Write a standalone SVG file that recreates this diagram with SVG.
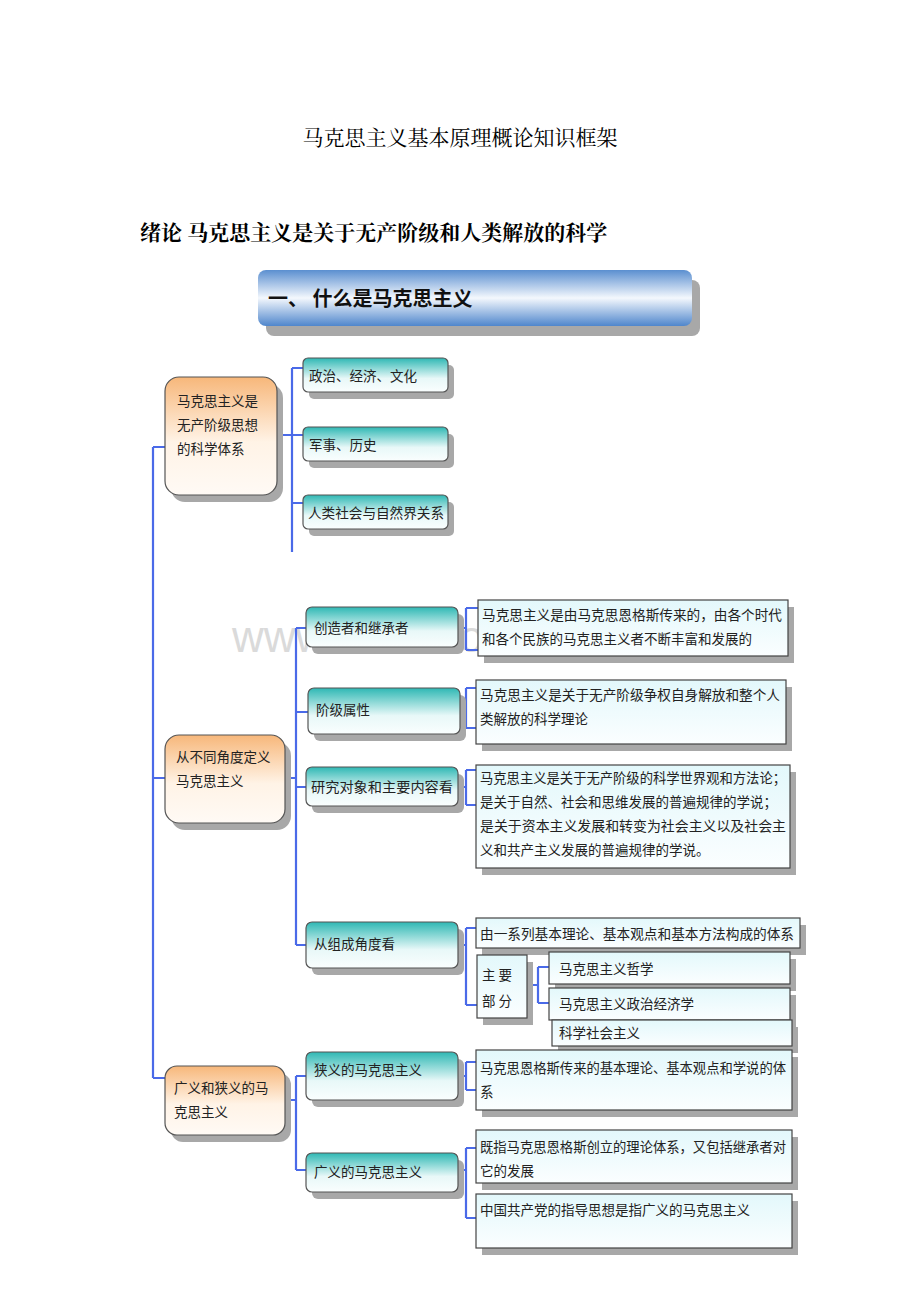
<svg xmlns="http://www.w3.org/2000/svg" width="920" height="1302" viewBox="0 0 920 1302">
<defs>
<linearGradient id="gBlue" x1="0" y1="0" x2="0" y2="1"><stop offset="0" stop-color="#5b8fd0"/><stop offset="0.5" stop-color="#f4f8fd"/><stop offset="1" stop-color="#4f86cc"/></linearGradient>
<linearGradient id="gOr" x1="0" y1="0" x2="0" y2="1"><stop offset="0" stop-color="#f7b77a"/><stop offset="0.55" stop-color="#fff3e6"/><stop offset="1" stop-color="#fffaf5"/></linearGradient>
<linearGradient id="gTeal" x1="0" y1="0" x2="0" y2="1"><stop offset="0" stop-color="#2fb8b4"/><stop offset="0.6" stop-color="#e8f8f8"/><stop offset="1" stop-color="#fafefe"/></linearGradient>
<linearGradient id="gCy" x1="0" y1="0" x2="0" y2="1"><stop offset="0" stop-color="#e3f8fb"/><stop offset="1" stop-color="#fbfeff"/></linearGradient>
</defs>
<style>
text{font-family:"Noto Sans CJK SC","Noto Sans CJK TC",sans-serif;fill:#222}
.h{font-family:"Noto Serif CJK SC","Noto Sans CJK SC",serif;font-size:21px;fill:#000}
.t{font-size:13.5px}
.sh{fill:#a8a8a8}
.or{fill:url(#gOr);stroke:#555;stroke-width:1.2}
.tl{fill:url(#gTeal);stroke:#555;stroke-width:1.2}
.cy{fill:url(#gCy);stroke:#444;stroke-width:1.2}
.ln{stroke:#4a6ae8;stroke-width:2.2;fill:none}
</style>
<rect width="920" height="1302" fill="#fff"/>
<text class="h" x="460" y="145" text-anchor="middle" font-size="22">马克思主义基本原理概论知识框架</text>
<text class="h" x="140" y="240" font-weight="bold">绪论  马克思主义是关于无产阶级和人类解放的科学</text>
<text x="232" y="652" font-size="44" style="fill:#dadada;font-family:'Liberation Sans',sans-serif">www.zixin.com.cn</text>

<g id="banner">
<rect class="sh" x="266" y="280" width="434" height="56" rx="8"/>
<rect x="258" y="270" width="434" height="56" rx="8" fill="url(#gBlue)"/>
<text x="268" y="306" font-size="20" font-weight="bold" style="fill:#111">一、 什么是马克思主义</text>
</g>

<g id="connectors">
<path class="ln" d="M153 447V1078M153 447H165M153 778H165M153 1078H165"/>
<path class="ln" d="M277 435H292M292 368V552M292 368H303M292 435H303M292 503H303"/>
<path class="ln" d="M285 778H296M296 628V945M296 628H306M296 712H308M296 787H306M296 945H306"/>
<path class="ln" d="M458 628H466M466 608V650M466 608H478M466 650H478"/>
<path class="ln" d="M460 712H466M466 688V728M466 688H476M466 728H476"/>
<path class="ln" d="M458 787H466M466 770V805M466 770H476M466 805H476"/>
<path class="ln" d="M458 945H466M466 928V1005M466 928H476M466 1005H477"/>
<path class="ln" d="M527 985H538M538 967V1003M538 967H549M538 1003H549"/>
<path class="ln" d="M285 1100H296M296 1076V1170M296 1076H306M296 1170H306"/>
<path class="ln" d="M458 1076H466M466 1062V1090M466 1062H476M466 1090H476"/>
<path class="ln" d="M458 1170H466M466 1148V1218M466 1148H476M466 1218H476"/>
</g>

<g id="n1"><rect class="sh" x="171" y="384" width="112" height="118" rx="14"/><rect class="or" x="165" y="377" width="112" height="118" rx="14"/>
<text class="t" x="177" y="406">马克思主义是</text><text class="t" x="177" y="430">无产阶级思想</text><text class="t" x="177" y="454">的科学体系</text></g>
<g id="n1a"><rect class="sh" x="309" y="365" width="145" height="34" rx="5"/><rect class="tl" x="303" y="358" width="145" height="34" rx="5"/><text class="t" x="309" y="381">政治、经济、文化</text></g>
<g id="n1b"><rect class="sh" x="309" y="434" width="145" height="34" rx="5"/><rect class="tl" x="303" y="427" width="145" height="34" rx="5"/><text class="t" x="309" y="450">军事、历史</text></g>
<g id="n1c"><rect class="sh" x="309" y="502" width="145" height="34" rx="5"/><rect class="tl" x="303" y="495" width="145" height="34" rx="5"/><text class="t" x="308" y="518" textLength="136" lengthAdjust="spacingAndGlyphs">人类社会与自然界关系</text></g>

<g id="n2"><rect class="sh" x="171" y="742" width="120" height="88" rx="14"/><rect class="or" x="165" y="735" width="120" height="88" rx="14"/>
<text class="t" x="176" y="762">从不同角度定义</text><text class="t" x="176" y="786">马克思主义</text></g>
<g id="n2a"><rect class="sh" x="312" y="614" width="152" height="40" rx="6"/><rect class="tl" x="306" y="607" width="152" height="40" rx="6"/><text class="t" x="314" y="633">创造者和继承者</text></g>
<g id="n2b"><rect class="sh" x="314" y="695" width="152" height="46" rx="6"/><rect class="tl" x="308" y="688" width="152" height="46" rx="6"/><text class="t" x="316" y="715">阶级属性</text></g>
<g id="n2c"><rect class="sh" x="312" y="774" width="152" height="39" rx="6"/><rect class="tl" x="306" y="767" width="152" height="39" rx="6"/><text class="t" x="311" y="792" textLength="142" lengthAdjust="spacingAndGlyphs">研究对象和主要内容看</text></g>
<g id="n2d"><rect class="sh" x="312" y="929" width="152" height="46" rx="6"/><rect class="tl" x="306" y="922" width="152" height="46" rx="6"/><text class="t" x="314" y="949">从组成角度看</text></g>

<g id="d1"><rect class="sh" x="484" y="607" width="310" height="56"/><rect class="cy" x="478" y="600" width="310" height="56"/>
<text class="t" x="482" y="620" textLength="300" lengthAdjust="spacingAndGlyphs">马克思主义是由马克思恩格斯传来的，由各个时代</text><text class="t" x="482" y="644">和各个民族的马克思主义者不断丰富和发展的</text></g>
<g id="d2"><rect class="sh" x="482" y="687" width="310" height="64"/><rect class="cy" x="476" y="680" width="310" height="64"/>
<text class="t" x="480" y="700" textLength="300" lengthAdjust="spacingAndGlyphs">马克思主义是关于无产阶级争权自身解放和整个人</text><text class="t" x="480" y="724">类解放的科学理论</text></g>
<g id="d3"><rect class="sh" x="482" y="772" width="314" height="103"/><rect class="cy" x="476" y="765" width="314" height="103"/>
<text class="t" x="480" y="783" textLength="306" lengthAdjust="spacingAndGlyphs">马克思主义是关于无产阶级的科学世界观和方法论；</text><text class="t" x="480" y="807">是关于自然、社会和思维发展的普遍规律的学说；</text><text class="t" x="480" y="831" textLength="306" lengthAdjust="spacingAndGlyphs">是关于资本主义发展和转变为社会主义以及社会主</text><text class="t" x="480" y="855">义和共产主义发展的普遍规律的学说。</text></g>
<g id="d4"><rect class="sh" x="482" y="925" width="324" height="30"/><rect class="cy" x="476" y="918" width="324" height="30"/><text class="t" x="480" y="939" textLength="314" lengthAdjust="spacingAndGlyphs">由一系列基本理论、基本观点和基本方法构成的体系</text></g>
<g id="d5"><rect class="sh" x="483" y="962" width="50" height="63"/><rect class="cy" x="477" y="955" width="50" height="63"/><text class="t" x="482" y="980">主  要</text><text class="t" x="482" y="1006">部  分</text></g>
<g id="d6"><rect class="sh" x="555" y="959" width="241" height="32"/><rect class="cy" x="549" y="952" width="241" height="32"/><text class="t" x="559" y="974">马克思主义哲学</text></g>
<g id="d7"><rect class="sh" x="555" y="995" width="241" height="32"/><rect class="cy" x="549" y="988" width="241" height="32"/><text class="t" x="559" y="1009">马克思主义政治经济学</text></g>
<g id="d8"><rect class="sh" x="558" y="1027" width="240" height="26"/><rect class="cy" x="552" y="1020" width="240" height="26"/><text class="t" x="559" y="1038">科学社会主义</text></g>

<g id="n3"><rect class="sh" x="171" y="1073" width="120" height="69" rx="12"/><rect class="or" x="165" y="1066" width="120" height="69" rx="12"/>
<text class="t" x="174" y="1093">广义和狭义的马</text><text class="t" x="174" y="1117">克思主义</text></g>
<g id="n3a"><rect class="sh" x="312" y="1059" width="152" height="48" rx="6"/><rect class="tl" x="306" y="1052" width="152" height="48" rx="6"/><text class="t" x="314" y="1075">狭义的马克思主义</text></g>
<g id="n3b"><rect class="sh" x="312" y="1160" width="152" height="39" rx="6"/><rect class="tl" x="306" y="1153" width="152" height="39" rx="6"/><text class="t" x="314" y="1177">广义的马克思主义</text></g>
<g id="d9"><rect class="sh" x="482" y="1057" width="316" height="60"/><rect class="cy" x="476" y="1050" width="316" height="60"/>
<text class="t" x="480" y="1073" textLength="306" lengthAdjust="spacingAndGlyphs">马克思恩格斯传来的基本理论、基本观点和学说的体</text><text class="t" x="480" y="1097">系</text></g>
<g id="d10"><rect class="sh" x="482" y="1137" width="316" height="53"/><rect class="cy" x="476" y="1130" width="316" height="53"/>
<text class="t" x="480" y="1152" textLength="306" lengthAdjust="spacingAndGlyphs">既指马克思恩格斯创立的理论体系，又包括继承者对</text><text class="t" x="480" y="1176">它的发展</text></g>
<g id="d11"><rect class="sh" x="482" y="1201" width="316" height="54"/><rect class="cy" x="476" y="1194" width="316" height="54"/><text class="t" x="480" y="1215">中国共产党的指导思想是指广义的马克思主义</text></g>
</svg>
